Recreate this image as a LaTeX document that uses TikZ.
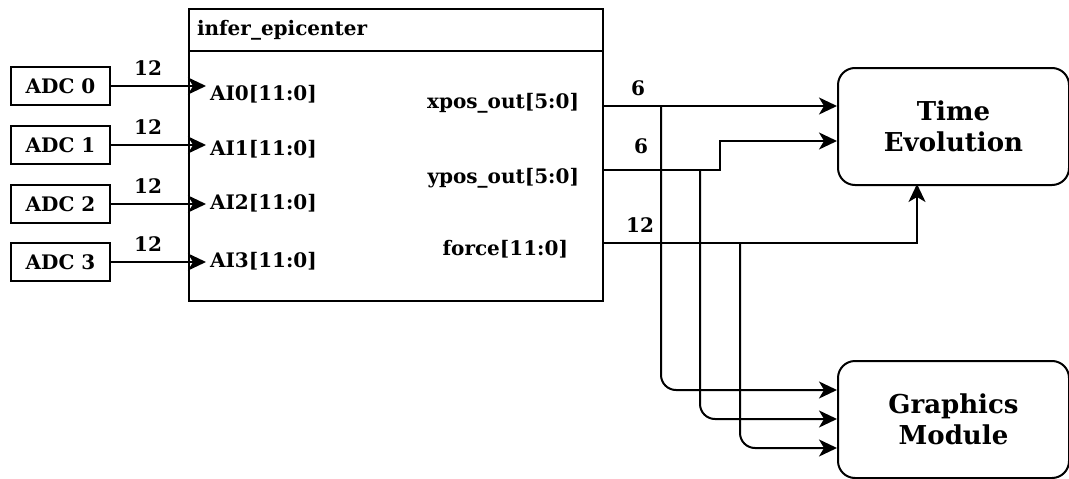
\documentclass[tikz,border=0pt]{standalone}
\usepackage{fontspec}
\setmainfont{DejaVu Serif}
\usetikzlibrary{arrows.meta}
\begin{document}
\begin{tikzpicture}[x=1pt,y=-1pt,
  line width=2pt,
  lbl/.style={font=\bfseries\fontsize{20}{24}\selectfont, inner sep=0pt},
  big/.style={font=\bfseries\fontsize{26}{31}\selectfont, align=center, inner sep=0pt},
  adcbox/.style={draw, minimum width=99pt, minimum height=38pt, inner sep=0pt,
                 font=\bfseries\fontsize{20}{24}\selectfont},
  blockbox/.style={draw, rounded corners=17pt, minimum width=231pt, minimum height=117pt, inner sep=0pt},
  sig/.style={-{Stealth[length=18pt,width=17pt,inset=5pt]}},
  bus/.style={sig, rounded corners=15pt}
]
\useasboundingbox (0,0) rectangle (1069,479);

% central module with title bar
\node[draw, minimum width=414pt, minimum height=292pt, inner sep=0pt, anchor=north west] (core) at (188,8) {};
\draw (188,51) -- (602,51);
\node[lbl, anchor=west] (title) at (196,30) {infer\_epicenter};

% converters
\node[adcbox] (adc0) at (60.5,86) {ADC 0};
\node[adcbox] (adc1) at (60.5,145) {ADC 1};
\node[adcbox] (adc2) at (60.5,204) {ADC 2};
\node[adcbox] (adc3) at (60.5,262) {ADC 3};

% input ports
\coordinate (in0) at (206,86);
\coordinate (in1) at (206,145);
\coordinate (in2) at (206,204);
\coordinate (in3) at (206,262);
\node[lbl, anchor=west] (p0) at (209,94) {AI0[11:0]};
\node[lbl, anchor=west] (p1) at (209,149) {AI1[11:0]};
\node[lbl, anchor=west] (p2) at (209,203) {AI2[11:0]};
\node[lbl, anchor=west] (p3) at (209,261) {AI3[11:0]};

\draw[sig] (adc0.east) -- (in0);
\draw[sig] (adc1.east) -- (in1);
\draw[sig] (adc2.east) -- (in2);
\draw[sig] (adc3.east) -- (in3);
\node[lbl] (w0) at (148,68) {12};
\node[lbl] (w1) at (148,127) {12};
\node[lbl] (w2) at (148,186) {12};
\node[lbl] (w3) at (148,244) {12};

% output ports
\node[lbl, anchor=east] (xp) at (580,103) {xpos\_out[5:0]};
\node[lbl, anchor=east] (yp) at (580,178) {ypos\_out[5:0]};
\node[lbl, anchor=east] (fp) at (569,249) {force[11:0]};
\coordinate (xo) at (602,106);
\coordinate (yo) at (602,170);
\coordinate (fo) at (602,243);

% destination blocks
\node[blockbox, anchor=north west] (te) at (837,67) {};
\node[big] (tetxt) at (te.center) {Time\\Evolution};
\node[blockbox, anchor=north west] (gm) at (837,360) {};
\node[big] (gmtxt) at (gm.center) {Graphics\\Module};

% output buses
\draw[sig] (xo) -- (xo -| te.west);
\draw[sig] (yo) -- (720,170) -- (720,141) -- (837,141);
\draw[sig] (fo) -- (917,243) -- (917,184);
\node[lbl] (wx) at (638,88) {6};
\node[lbl] (wy) at (641,146) {6};
\node[lbl] (wf) at (640,225) {12};

% taps to the graphics module
\draw[bus] (661,106) -- (661,390) -- (837,390);
\draw[bus] (700,170) -- (700,419) -- (837,419);
\draw[bus] (740,243) -- (740,448) -- (837,448);
\end{tikzpicture}
\end{document}
